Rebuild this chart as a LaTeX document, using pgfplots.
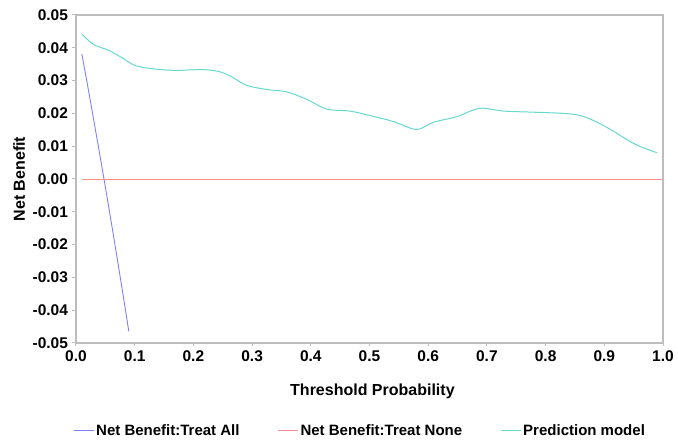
\documentclass[border=0pt]{standalone}
\usepackage{pgfplots}
\pgfplotsset{compat=1.18}
\usepackage{fontspec}
\setmainfont{Liberation Sans}
\definecolor{cAll}{HTML}{8080FF}
\definecolor{cNone}{HTML}{FF8A8A}
\definecolor{cPred}{HTML}{66D9CF}
\definecolor{cAxis}{HTML}{BDBDBD}
\begin{document}
\begin{tikzpicture}
\useasboundingbox (-76pt,-98pt) rectangle (602pt,343pt);
\begin{axis}[
  scale only axis,
  width=587pt, height=328pt,
  xmin=0, xmax=1, ymin=-0.05, ymax=0.05,
  scaled y ticks=false, scaled x ticks=false,
  xtick={0,0.1,...,1.0},
  ytick={-0.05,-0.04,...,0.05},
  xticklabels={0.0,0.1,0.2,0.3,0.4,0.5,0.6,0.7,0.8,0.9,1.0},
  yticklabels={-0.05,-0.04,-0.03,-0.02,-0.01,0.00,0.01,0.02,0.03,0.04,0.05},
  tick align=outside, tick pos=left,
  major tick length=3.5pt,
  axis line style={cAxis, line width=1.4pt},
  every tick/.style={cAxis, line width=1pt},
  tick label style={font=\fontsize{15.5}{18}\selectfont\bfseries},
  /pgf/number format/assume math mode=true,
  xticklabel style={yshift=-1pt},
  yticklabel style={xshift=-1pt},
  xlabel={Threshold Probability},
  ylabel={Net Benefit},
  label style={font=\fontsize{16}{19}\selectfont\bfseries},
  xlabel style={at={(axis description cs:0.505,0)}, anchor=center, yshift=-48pt},
  ylabel style={at={(axis description cs:-0.097,0.5)}, anchor=center},
  legend columns=3,
  legend style={draw=none, fill=none, at={(axis description cs:0,0)}, anchor=west, xshift=-3pt, yshift=-88pt,
    font=\fontsize{15}{18}\selectfont\bfseries, inner sep=0pt,
    /tikz/every even column/.append style={column sep=36pt}},
  legend cell align=left,
  legend image code/.code={\draw[#1] (0pt,0pt) -- (20pt,0pt);},
]
\addlegendimage{cAll, line width=1pt}
\addlegendentry{Net Benefit:Treat All}
\addlegendimage{cNone, line width=1pt}
\addlegendentry{Net Benefit:Treat None}
\addlegendimage{cPred, line width=1pt}
\addlegendentry{Prediction model}
\addplot[cAll, line width=0.9pt, forget plot] coordinates {
(0.01,0.0381) (0.02,0.0283) (0.03,0.0182) (0.04,0.0080) (0.05,-0.0024)
(0.06,-0.0131) (0.07,-0.0240) (0.08,-0.0351) (0.09,-0.0465)};
\addplot[cNone, line width=0.9pt, forget plot] coordinates {(0.01,0) (1.0,0)};
\addplot[cPred, line width=1pt, smooth, tension=0.5, forget plot] coordinates {
(0.01,0.0442) (0.03,0.0410) (0.056,0.0392) (0.08,0.0368) (0.102,0.0345)
(0.136,0.0335) (0.170,0.0331) (0.20,0.0333) (0.222,0.0333) (0.245,0.0327)
(0.265,0.0312) (0.29,0.0286) (0.324,0.0273) (0.358,0.0266) (0.393,0.0243)
(0.427,0.0213) (0.467,0.0207) (0.506,0.0191) (0.541,0.0175) (0.575,0.0152)
(0.589,0.0155) (0.609,0.0173) (0.649,0.0190) (0.672,0.0207) (0.692,0.0216)
(0.729,0.0207) (0.774,0.0204) (0.831,0.0200) (0.860,0.0193) (0.888,0.0173)
(0.917,0.0144) (0.945,0.0113) (0.968,0.0094) (0.99,0.0080)};
\end{axis}
\draw[cAxis, line width=1.4pt] (0pt,328pt) -- (587pt,328pt) -- (587pt,0pt);
\end{tikzpicture}
\end{document}
